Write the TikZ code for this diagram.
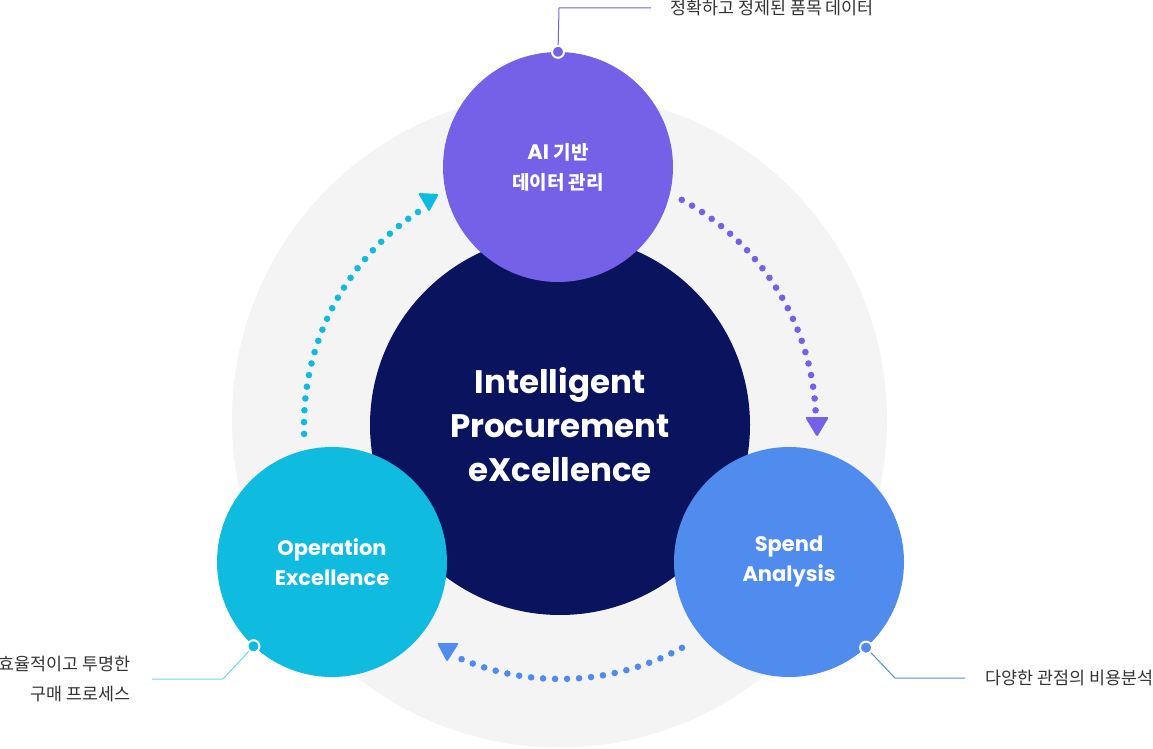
\documentclass[tikz,border=0pt]{standalone}
\usepackage{fontspec}
\setmainfont{Poppins}
\newfontfamily\kr{Noto Sans CJK KR}
\usetikzlibrary{positioning}

\definecolor{ringgray}{HTML}{F4F4F4}
\definecolor{navy}{HTML}{09135E}
\definecolor{aipurple}{HTML}{7560E8}
\definecolor{opcyan}{HTML}{10BBE0}
\definecolor{spblue}{HTML}{508CEE}
\definecolor{labelgray}{HTML}{333333}

\newcommand{\krbold}{\kr\bfseries\fontsize{19}{30}\selectfont}

\tikzset{
  stage/.style={circle, minimum size=230pt, inner sep=0pt, text=white, align=center,
    font=\bfseries\fontsize{21}{30}\selectfont},
  marker/.style={circle, draw=white, line width=2pt, minimum size=12pt, inner sep=0pt},
  callout/.style={line width=1pt},
  note/.style={text=labelgray, inner sep=0pt, font=\kr\fontsize{17.4}{30}\selectfont},
}

\begin{document}
\begin{tikzpicture}[x=1pt, y=1pt]
  \useasboundingbox (0,0) rectangle (1153,748);
  \fill[ringgray] (559.5,328) circle (327.5);
  \node[circle, fill=navy, minimum size=380pt, inner sep=0pt, text=white, align=center,
    font=\bfseries\fontsize{32.5}{44}\selectfont] (core) at (560,323)
    {Intelligent\\Procurement\\eXcellence};

  % the three stages
  \node[stage, fill=aipurple] (ai) at (558,581) {AI {\krbold 기반}\\{\krbold 데이터 관리}};
  \node[stage, fill=opcyan] (op) at (332,186) {Operation\\Excellence};
  \node[stage, fill=spblue] (sp) at (789,186) {Spend\\Analysis};

  % dotted cycle
  \coordinate (hub) at (560,323);
  \foreach \a in {0,...,22}
    \fill[aipurple] (hub) ++({61.6-\a*58.3/22}:256) circle (3.3);
  \foreach \a in {0,...,22}
    \fill[opcyan] (hub) ++({182-\a*58.3/22}:256) circle (3.3);
  \foreach \a in {0,...,19}
    \fill[spblue] (hub) ++({-61.3-\a*51.5/19}:254) circle (3.3);
  \fill[aipurple, rounded corners=2pt] (805,331) -- (829,331) -- (817,311) -- cycle;
  \fill[opcyan, rounded corners=2pt] (418,555) -- (439,554) -- (429,536) -- cycle;
  \fill[spblue, rounded corners=2pt] (437,105) -- (459,105) -- (447,86) -- cycle;

  % callouts
  \node[marker, fill=aipurple] (aidot) at (ai.north) {};
  \coordinate (aibend) at (559,740);
  \coordinate (aiend) at (651,740);
  \draw[callout, aipurple] (aidot) -- (aibend) -- (aiend);
  \node[note, right=19pt of aiend] (ainote) {정확하고 정제된 품목 데이터};

  \node[marker, fill=opcyan] (opdot) at (op.227) {};
  \coordinate (opbend) at (223,69);
  \coordinate (opend) at (152,69);
  \draw[callout, opcyan!60] (opdot) -- (opbend) -- (opend);
  \node[note, left=21pt of opend, align=right] (opnote) {효율적이고 투명한\\구매 프로세스};

  \node[marker, fill=spblue] (spdot) at (sp.-48) {};
  \coordinate (spbend) at (895,70);
  \coordinate (spend) at (965,70);
  \draw[callout, spblue] (spdot) -- (spbend) -- (spend);
  \node[note, right=20pt of spend] (spnote) {다양한 관점의 비용분석};
\end{tikzpicture}
\end{document}
